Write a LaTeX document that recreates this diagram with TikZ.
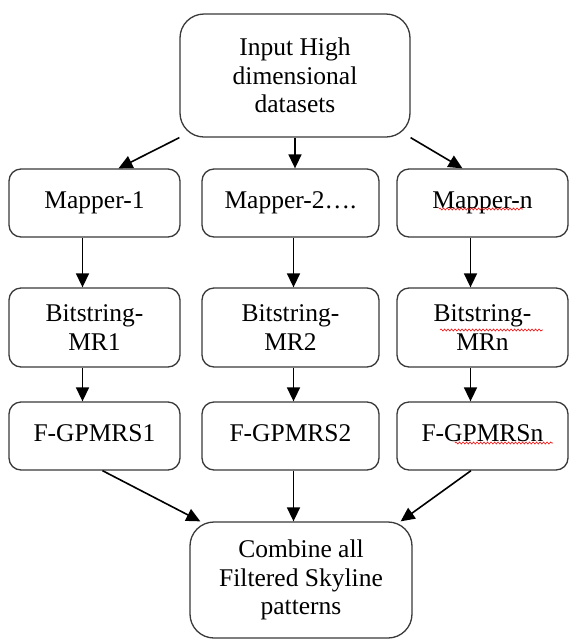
\documentclass[tikz,border=0pt]{standalone}
\usepackage{fontspec}
\setmainfont{Liberation Serif}
\newfontfamily\tnr{Liberation Serif}
\usetikzlibrary{arrows.meta,decorations.pathmorphing}
\definecolor{boxgray}{HTML}{3A3A3A}
\begin{document}
\begin{tikzpicture}[x=1pt,y=-1pt,
  box/.style={draw=boxgray,line width=1.3pt,rounded corners=12pt,align=center,
    font=\tnr\fontsize{25.5}{28.5}\selectfont,inner sep=0pt},
  bigbox/.style={box,rounded corners=24pt},
  arr/.style={line width=1.6pt,-{Triangle[length=14pt,width=13pt]}},
  wave/.style={red,line width=0.6pt,decorate,decoration={snake,amplitude=1pt,segment length=3.5pt}}]
\useasboundingbox (0,0) rectangle (579,641);
\fill[white] (0,0) rectangle (579,641);
% top box
\node[bigbox,minimum width=230pt,minimum height=123pt] (in) at (295,75.5) {Input High\\dimensional\\datasets};
% mappers
\node[box,minimum width=171pt,minimum height=68pt] (m1) at (94.5,203) {\raisebox{6pt}{Mapper-1}};
\node[box,minimum width=177pt,minimum height=68pt] (m2) at (290.5,203) {\raisebox{6pt}{Mapper-2\dots.}};
\node[box,minimum width=171pt,minimum height=68pt] (m3) at (482.5,203) {\raisebox{6pt}{Mapper-n}};
% bitstrings
\node[box,minimum width=171pt,minimum height=79pt] (b1) at (94.5,327.5) {Bitstring-\\MR1};
\node[box,minimum width=177pt,minimum height=79pt] (b2) at (290.5,327.5) {Bitstring-\\MR2};
\node[box,minimum width=171pt,minimum height=79pt] (b3) at (482.5,327.5) {Bitstring-\\MRn};
% filters
\node[box,minimum width=171pt,minimum height=68pt] (f1) at (94.5,436) {\raisebox{6pt}{F-GPMRS1}};
\node[box,minimum width=177pt,minimum height=68pt] (f2) at (290.5,436) {\raisebox{6pt}{F-GPMRS2}};
\node[box,minimum width=171pt,minimum height=68pt] (f3) at (482.5,436) {\raisebox{6pt}{F-GPMRSn}};
% bottom
\node[bigbox,minimum width=222pt,minimum height=116pt] (out) at (301,580) {Combine all\\Filtered Skyline\\patterns};
% arrows
\draw[arr] (in.south west) -- ([xshift=24pt]m1.north);
\draw[arr] (in.south) -- (in.south |- m2.north);
\draw[arr] (in.south east) -- ([xshift=-20pt]m3.north);
\draw[arr] ([xshift=-12pt]m1.south) -- ([xshift=-12pt]b1.north);
\draw[arr] ([xshift=3pt]m2.south) -- ([xshift=3pt]b2.north);
\draw[arr] ([xshift=-12pt]m3.south) -- ([xshift=-12pt]b3.north);
\draw[arr] ([xshift=-12pt]b1.south) -- ([xshift=-12pt]f1.north);
\draw[arr] ([xshift=3pt]b2.south) -- ([xshift=3pt]f2.north);
\draw[arr] ([xshift=-12pt]b3.south) -- ([xshift=-12pt]f3.north);
\draw[arr] ([xshift=8pt]f1.south) -- ([xshift=11pt]out.north west);
\draw[arr] ([xshift=3pt]f2.south) -- ([xshift=3pt]f2.south |- out.north);
\draw[arr] ([xshift=-11.5pt]f3.south) -- ([xshift=-12pt]out.north east);
% spell-check underlines
\draw[wave] (439,209) -- (523,209);
\draw[wave] (440,330) -- (543,330);
\draw[wave] (455,443) -- (553,443);
\end{tikzpicture}
\end{document}
